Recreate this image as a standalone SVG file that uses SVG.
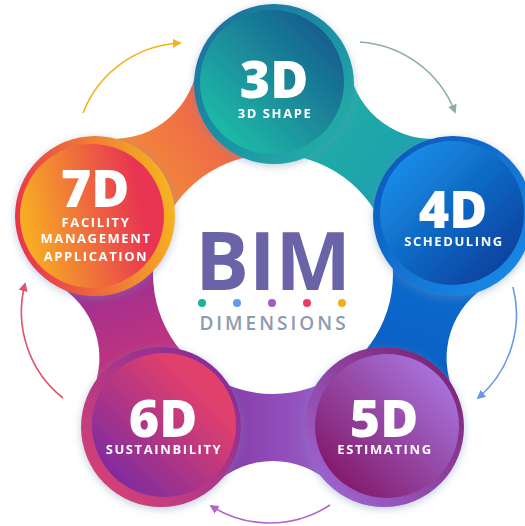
<svg xmlns="http://www.w3.org/2000/svg" width="525" height="526" viewBox="0 0 525 526">
<defs>
<style>
.big{font-family:"Open Sans","Liberation Sans",sans-serif;font-weight:800;font-size:52px;fill:#fff;text-anchor:middle}
.sub{font-family:"Open Sans","Liberation Sans",sans-serif;font-weight:700;font-size:13px;fill:#fff;text-anchor:middle;letter-spacing:1.6px}
.arc{fill:none;stroke-width:1.6}
.node{filter:url(#sh)}
</style>
<filter id="sh" x="-30%" y="-30%" width="160%" height="160%"><feDropShadow dx="0" dy="2" stdDeviation="4" flood-color="#6d8fb3" flood-opacity="0.45"/></filter>
<linearGradient id="n34" gradientUnits="userSpaceOnUse" x1="273" y1="84" x2="453.7" y2="215.3"><stop offset="0" stop-color="#1fb5a2"/><stop offset="1" stop-color="#1d98b2"/></linearGradient>
<linearGradient id="n45" gradientUnits="userSpaceOnUse" x1="273" y1="84" x2="453.7" y2="215.3"><stop offset="0" stop-color="#0c72d6"/><stop offset="1" stop-color="#0b58bc"/></linearGradient>
<linearGradient id="n56" gradientUnits="userSpaceOnUse" x1="273" y1="84" x2="453.7" y2="215.3"><stop offset="0" stop-color="#a56ed9"/><stop offset="1" stop-color="#7a2896"/></linearGradient>
<linearGradient id="n67" gradientUnits="userSpaceOnUse" x1="273" y1="84" x2="453.7" y2="215.3"><stop offset="0" stop-color="#db3a70"/><stop offset="1" stop-color="#86299f"/></linearGradient>
<linearGradient id="n73" gradientUnits="userSpaceOnUse" x1="273" y1="84" x2="453.7" y2="215.3"><stop offset="0" stop-color="#f5a331"/><stop offset="1" stop-color="#ec4b53"/></linearGradient>
<linearGradient id="r3" x1="0" y1="0" x2="1" y2="1"><stop offset="0" stop-color="#1a6aa0"/><stop offset="1" stop-color="#22b6a8"/></linearGradient>
<linearGradient id="i3" x1="0" y1="1" x2="1" y2="0"><stop offset="0.1" stop-color="#1fbfa8"/><stop offset="0.9" stop-color="#165a8e"/></linearGradient>
<linearGradient id="r4" x1="0" y1="0" x2="1" y2="1"><stop offset="0" stop-color="#0b54b8"/><stop offset="1" stop-color="#1a90ea"/></linearGradient>
<linearGradient id="i4" x1="0" y1="0" x2="1" y2="1"><stop offset="0.1" stop-color="#1690ea"/><stop offset="0.9" stop-color="#0a3f9c"/></linearGradient>
<linearGradient id="r5" x1="0" y1="1" x2="1" y2="0"><stop offset="0" stop-color="#a26ddc"/><stop offset="1" stop-color="#7a1a6a"/></linearGradient>
<linearGradient id="i5" x1="0" y1="1" x2="1" y2="0"><stop offset="0.15" stop-color="#841c6e"/><stop offset="0.9" stop-color="#a877e0"/></linearGradient>
<linearGradient id="r6" x1="0" y1="1" x2="1" y2="0"><stop offset="0" stop-color="#e2446f"/><stop offset="1" stop-color="#7a2aa0"/></linearGradient>
<linearGradient id="i6" x1="0" y1="1" x2="1" y2="0"><stop offset="0.1" stop-color="#7a2aa2"/><stop offset="0.75" stop-color="#e2406c"/></linearGradient>
<linearGradient id="r7" x1="0" y1="0.5" x2="1" y2="0.3"><stop offset="0" stop-color="#e8354f"/><stop offset="1" stop-color="#f6b81e"/></linearGradient>
<linearGradient id="i7" x1="0" y1="0.6" x2="1" y2="0.4"><stop offset="0.05" stop-color="#f7ab24"/><stop offset="0.85" stop-color="#e83452"/></linearGradient>
<marker id="m1" viewBox="0 0 10 10" refX="8" refY="5" markerWidth="9" markerHeight="9" markerUnits="userSpaceOnUse" orient="auto"><path d="M0 0 L10 5 L0 10 Z" fill="#f2b41c"/></marker>
<marker id="m2" viewBox="0 0 10 10" refX="8" refY="5" markerWidth="9" markerHeight="9" markerUnits="userSpaceOnUse" orient="auto"><path d="M0 0 L10 5 L0 10 Z" fill="#8fb0a0"/></marker>
<marker id="m3" viewBox="0 0 10 10" refX="8" refY="5" markerWidth="9" markerHeight="9" markerUnits="userSpaceOnUse" orient="auto"><path d="M0 0 L10 5 L0 10 Z" fill="#6a98e6"/></marker>
<marker id="m4" viewBox="0 0 10 10" refX="8" refY="5" markerWidth="9" markerHeight="9" markerUnits="userSpaceOnUse" orient="auto"><path d="M0 0 L10 5 L0 10 Z" fill="#b267c8"/></marker>
<marker id="m5" viewBox="0 0 10 10" refX="8" refY="5" markerWidth="9" markerHeight="9" markerUnits="userSpaceOnUse" orient="auto"><path d="M0 0 L10 5 L0 10 Z" fill="#e4506c"/></marker>
<path id="neck" d="M273 84 L349.3 69.7 A85 85 0 0 0 443.8 138.3 L453.7 215.3 L387.1 236.9 A120 120 0 0 0 273 154 Z"/>
</defs>
<rect width="525" height="526" fill="#fff"/>
<g id="band">
<use href="#neck" fill="url(#n34)"/>
<use href="#neck" fill="url(#n45)" transform="rotate(72 273 274)"/>
<use href="#neck" fill="url(#n56)" transform="rotate(144 273 274)"/>
<use href="#neck" fill="url(#n67)" transform="rotate(216 273 274)"/>
<use href="#neck" fill="url(#n73)" transform="rotate(288 273 274)"/>
</g>
<g id="connectors">
<path class="arc" stroke="#f2b41c" marker-end="url(#m1)" d="M83 113 A110 110 0 0 1 180 43"/>
<path class="arc" stroke="#8fb0a0" marker-end="url(#m2)" d="M360 42 A110 110 0 0 1 455 112"/>
<path class="arc" stroke="#6a98e6" marker-end="url(#m3)" d="M513 287 A110 110 0 0 1 478 398"/>
<path class="arc" stroke="#b267c8" marker-end="url(#m4)" d="M330 505 A110 110 0 0 1 211 506"/>
<path class="arc" stroke="#e4506c" marker-end="url(#m5)" d="M63 398 A110 110 0 0 1 25 284"/>
</g>
<g id="center">
<text x="273" y="290" text-anchor="middle" font-family="'Open Sans','Liberation Sans',sans-serif" font-weight="700" font-size="80" fill="#6a63a8">BIM</text>
<circle cx="202" cy="303" r="4" fill="#1bb39a"/>
<circle cx="237" cy="303" r="4" fill="#5e9cf0"/>
<circle cx="272" cy="303" r="4" fill="#a35ac9"/>
<circle cx="307" cy="303" r="4" fill="#ec3a6a"/>
<circle cx="342" cy="303" r="4" fill="#f4ae1a"/>
<text x="274" y="330" text-anchor="middle" font-family="'Open Sans','Liberation Sans',sans-serif" font-weight="600" font-size="19" letter-spacing="3" fill="#8b9bb0">DIMENSIONS</text>
</g>
<g id="node-3d" class="node" transform="translate(274 84)">
<circle r="80" fill="url(#r3)"/><circle cx="-2" cy="-2" r="72" fill="url(#i3)"/>
<text class="big" y="14">3D</text><text class="sub" x="1" y="34">3D SHAPE</text>
</g>
<g id="node-4d" class="node" transform="translate(453 216)">
<circle r="80" fill="url(#r4)"/><circle cx="-1" cy="-3" r="72" fill="url(#i4)"/>
<text class="big" y="12">4D</text><text class="sub" x="1" y="30">SCHEDULING</text>
</g>
<g id="node-5d" class="node" transform="translate(384 427)">
<circle r="80" fill="url(#r5)"/><circle cx="3" cy="-1" r="72" fill="url(#i5)"/>
<text class="big" y="10">5D</text><text class="sub" x="1" y="27">ESTIMATING</text>
</g>
<g id="node-6d" class="node" transform="translate(161 427)">
<circle r="80" fill="url(#r6)"/><circle cx="3" cy="-2" r="72" fill="url(#i6)"/>
<text class="big" x="2" y="10">6D</text><text class="sub" x="3" y="27">SUSTAINBILITY</text>
</g>
<g id="node-7d" class="node" transform="translate(95 216)">
<circle r="80" fill="url(#r7)"/><circle cx="-3" cy="0" r="72" fill="url(#i7)"/>
<text class="big" y="-9">7D</text><text class="sub" x="1" y="11">FACILITY</text><text class="sub" x="1" y="27">MANAGEMENT</text><text class="sub" x="1" y="45">APPLICATION</text>
</g>
</svg>
